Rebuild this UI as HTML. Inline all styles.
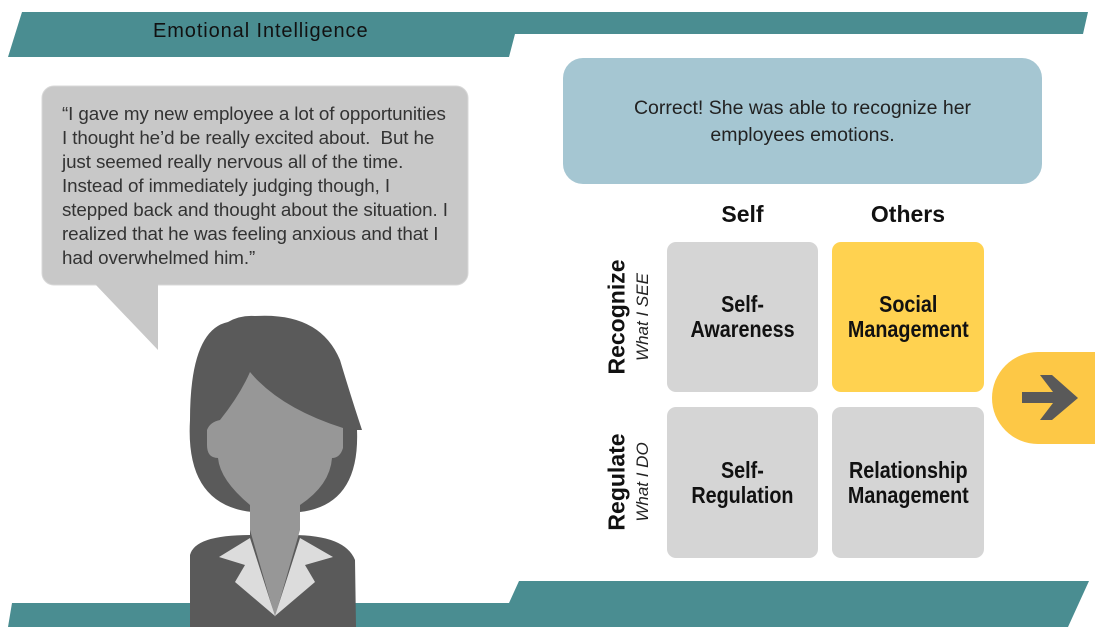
<!DOCTYPE html>
<html><head><meta charset="utf-8"><style>
html,body{margin:0;padding:0;background:#fff;width:1095px;height:639px;overflow:hidden;position:relative;font-family:"Liberation Sans",sans-serif}
.abs{position:absolute}
.q{left:62px;top:102px;font-size:18.8px;line-height:24px;color:#333;white-space:nowrap;letter-spacing:-0.1px}
.cell{position:absolute;display:flex;align-items:center;justify-content:center;text-align:center;font-weight:bold;font-size:23px;line-height:25px;color:#111}
.cell span{display:inline-block;transform:scaleX(0.86)}
.hd{position:absolute;font-weight:bold;font-size:23px;color:#111;text-align:center}
.rot{position:absolute;transform:translate(-50%,-50%) rotate(-90deg);white-space:nowrap;color:#111}
</style></head><body>
<svg class="abs" style="left:0;top:0" width="1095" height="639">
<polygon points="22,12 1088,12 1083,34 515,34 509,57 8,57" fill="#4a8d91"/>
<polygon points="519,581 1089,581 1068,627 8,627 12,603 509,603" fill="#4a8d91"/>
<rect x="42" y="86" width="426" height="199" rx="12" fill="#c8c8c8" stroke="#d8d8d8"/>
<polygon points="95,284 158,350 158,284" fill="#c8c8c8"/>
<rect x="563" y="58" width="479" height="126" rx="20" fill="#a5c6d2"/>
<path d="M190,627 L190,555 Q195,535 250,535 L250,510 L292,510 L292,535 Q345,535 355,560 L356,627 Z" fill="#5a5a5a"/>
<path d="M252,512 Q185,505 190,420 Q190,330 228,322 Q240,315 255,316 Q320,312 340,360 Q352,400 362,430 L357,430 Q360,505 300,512 Z" fill="#5a5a5a"/>
<path d="M250,530 L250,505 Q220,480 218,458 Q207,458 207,445 L207,430 Q210,422 220,420 Q240,395 250,372 Q280,408 343,428 L343,448 Q340,458 332,458 Q330,485 300,505 L300,530 L275,617 Z" fill="#979797"/>
<path d="M250,538 L219,557 L245,565 L235,582 L275,616 Z" fill="#dcdcdc"/>
<path d="M300,538 L333,557 L305,565 L315,582 L275,616 Z" fill="#dcdcdc"/>
<rect x="667" y="242" width="151" height="150" rx="9" fill="#d5d5d5"/>
<rect x="832" y="242" width="152" height="150" rx="9" fill="#ffd250"/>
<rect x="667" y="407" width="151" height="151" rx="9" fill="#d5d5d5"/>
<rect x="832" y="407" width="152" height="151" rx="9" fill="#d5d5d5"/>
<path d="M1038,352 L1095,352 L1095,444 L1038,444 A46,46 0 0 1 1038,352 Z" fill="#fdc846"/>
<polygon points="1022,392 1053,392 1040,375 1052,375 1078,398 1052,420 1040,420 1053,403 1022,403" fill="#595959"/>
</svg>
<div class="abs" style="left:153px;top:20px;font-size:20px;color:#111;letter-spacing:0.9px">Emotional Intelligence</div>
<div class="abs q">“I gave my new employee a lot of opportunities<br>I thought he’d be really excited about.&nbsp; But he<br>just seemed really nervous all of the time.<br>Instead of immediately judging though, I<br>stepped back and thought about the situation. I<br>realized that he was feeling anxious and that I<br>had overwhelmed him.”</div>
<div class="abs" style="left:563px;top:95px;width:479px;text-align:center;font-size:19.5px;line-height:27px;color:#222">Correct! She was able to recognize her<br>employees emotions.</div>
<div class="hd" style="left:667px;top:201px;width:151px">Self</div>
<div class="hd" style="left:832px;top:201px;width:152px">Others</div>
<div class="cell" style="left:667px;top:242px;width:151px;height:150px"><span>Self-<br>Awareness</span></div>
<div class="cell" style="left:832px;top:242px;width:152px;height:150px"><span>Social<br>Management</span></div>
<div class="cell" style="left:667px;top:407px;width:151px;height:151px"><span>Self-<br>Regulation</span></div>
<div class="cell" style="left:832px;top:407px;width:152px;height:151px"><span>Relationship<br>Management</span></div>
<div class="rot" style="left:617px;top:317px;font-weight:bold;font-size:23px">Recognize</div>
<div class="rot" style="left:643px;top:317px;font-style:italic;font-size:17px;color:#222">What I SEE</div>
<div class="rot" style="left:617px;top:482px;font-weight:bold;font-size:23px">Regulate</div>
<div class="rot" style="left:643px;top:482px;font-style:italic;font-size:17px;color:#222">What I DO</div>
</body></html>
